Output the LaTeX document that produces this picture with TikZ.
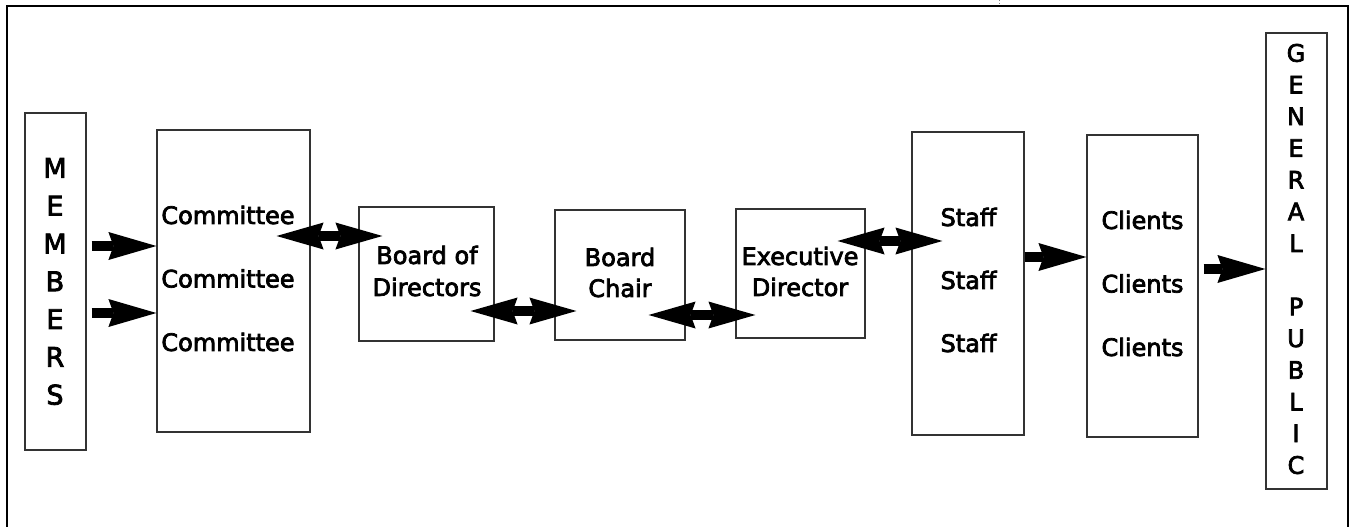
\documentclass[tikz,border=0pt]{standalone}
\usepackage{fontspec}
\setmainfont{DejaVu Sans}
\newfontfamily\medfont{DejaVu Sans}[FakeBold=3]
\usetikzlibrary{arrows.meta,calc}
\begin{document}
\begin{tikzpicture}[x=1pt,y=-1pt,
  box/.style={draw=black!80, line width=1.2pt, inner sep=0pt},
  lbl/.style={align=center, inner sep=0pt},
  onearrow/.style={line width=10pt, -{Stealth[length=48pt,width=28pt,inset=5pt,line width=0pt]}},
  twoarrow/.style={line width=10pt, {Stealth[length=47pt,width=27pt,inset=5pt,line width=0pt]}-{Stealth[length=47pt,width=27pt,inset=5pt,line width=0pt]}}
]
\useasboundingbox (0,0) rectangle (1354,527);
% outer frame (open at the bottom)
\draw[line width=2.5pt] (7,528) -- (7,6) -- (1348,6) -- (1348,528);
\draw[black!50, dotted, line width=0.8pt] (999,0) -- (999,5);

% boxes
\node[box, minimum width=61pt,  minimum height=337pt] (mem)     at (55.5,281.5) {};
\node[box, minimum width=153pt, minimum height=302pt] (comm)    at (233.5,281) {};
\node[box, minimum width=135pt, minimum height=134pt] (bod)     at (426.5,274) {};
\node[box, minimum width=130pt, minimum height=130pt] (chair)   at (620,275) {};
\node[box, minimum width=129pt, minimum height=129pt] (exec)    at (800.5,273.5) {};
\node[box, minimum width=112pt, minimum height=303pt] (staff)   at (968,283.5) {};
\node[box, minimum width=111pt, minimum height=302pt] (clients) at (1142.5,286) {};
\node[box, minimum width=61pt,  minimum height=456pt] (gp)      at (1296.5,261) {};

% texts
\node[lbl, font=\medfont\fontsize{27}{37.8}\selectfont] (memt) at (55,281.5) {M\\E\\M\\B\\E\\R\\S};
\node[lbl, font=\medfont\fontsize{24}{63.5}\selectfont] (commt) at (228,278.5) {Committee\\Committee\\Committee};
\node[lbl, font=\medfont\fontsize{24}{32}\selectfont] (bodt) at (427,271) {Board of\\Directors};
\node[lbl, font=\medfont\fontsize{24}{31}\selectfont] (chairt) at (620,272.5) {Board\\Chair};
\node[lbl, font=\medfont\fontsize{24}{31}\selectfont] (exect) at (800,271.5) {Executive\\Director};
\node[lbl, font=\medfont\fontsize{24}{63}\selectfont] (stafft) at (968.5,280) {Staff\\Staff\\Staff};
\node[lbl, font=\medfont\fontsize{24}{63.5}\selectfont] (clientst) at (1142.5,283.5) {Clients\\Clients\\Clients};
\node[lbl, font=\medfont\fontsize{24}{31.7}\selectfont] (gpt) at (1296,259) {G\\E\\N\\E\\R\\A\\L\\[31.7pt]P\\U\\B\\L\\I\\C};

% connectors
\draw[onearrow] ($(mem.east |- 0,246)+(5,0)$) -- (comm.west |- 0,246);
\draw[onearrow] ($(mem.east |- 0,313)+(5,0)$) -- (comm.west |- 0,313);
\draw[twoarrow] ($(comm.east |- 0,236)+(-34,0)$) -- ($(bod.west |- 0,236)+(24,0)$);
\draw[twoarrow] ($(bod.east |- 0,311)+(-24,0)$) -- ($(chair.west |- 0,311)+(22,0)$);
\draw[twoarrow] ($(chair.east |- 0,315)+(-37,0)$) -- ($(exec.west |- 0,315)+(20,0)$);
\draw[twoarrow] ($(exec.east |- 0,241)+(-28,0)$) -- ($(staff.west |- 0,241)+(31,0)$);
\draw[onearrow] (staff.east |- 0,257) -- (clients.west |- 0,257);
\draw[onearrow] ($(clients.east |- 0,269)+(5,0)$) -- (gp.west |- 0,269);
\end{tikzpicture}
\end{document}
